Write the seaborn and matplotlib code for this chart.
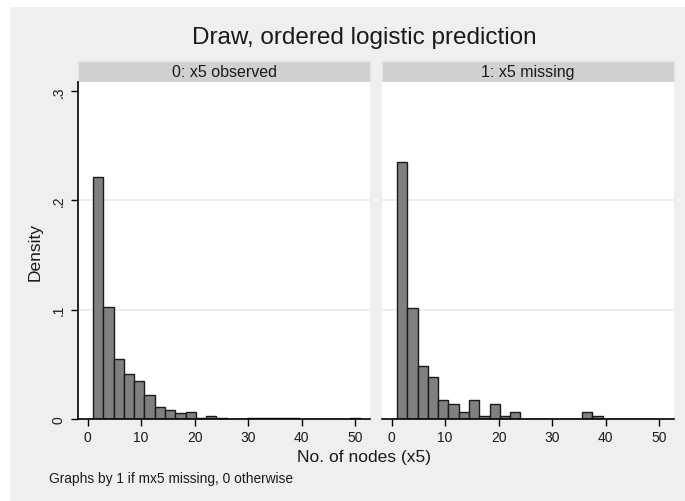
import numpy as np
import pandas as pd
import matplotlib
matplotlib.use("Agg")
import matplotlib.pyplot as plt
from matplotlib.patches import Rectangle
import seaborn as sns

# ---- data ----
bin_start = 1.0
bin_width = 50 / 26
n_bins = 26
panel_titles = ["0: x5 observed", "1: x5 missing"]
density_observed = [0.221, 0.102, 0.055, 0.041, 0.0345, 0.0223, 0.0107, 0.0085,
                    0.0055, 0.0067, 0.001, 0.0025, 0.001, 0.0, 0.0, 0.001,
                    0.001, 0.001, 0.001, 0.001, 0.0, 0.0, 0.0, 0.0, 0.0, 0.001]
density_missing = [0.235, 0.1016, 0.0488, 0.0384, 0.0177, 0.0137, 0.0067, 0.0177,
                   0.003, 0.0137, 0.003, 0.0067, 0.0, 0.0, 0.0, 0.0,
                   0.0, 0.0, 0.0067, 0.003, 0.0, 0.0, 0.0, 0.0, 0.0, 0.0]
x_ticks = [0, 10, 20, 30, 40, 50]
y_ticks = [0, 0.1, 0.2, 0.3]
y_ticklabels = ["0", ".1", ".2", ".3"]

edges = bin_start + bin_width * np.arange(n_bins + 1)
centers = (edges[:-1] + edges[1:]) / 2

sns.set_theme(style="white")
plt.rcParams["font.family"] = ["Liberation Sans", "DejaVu Sans"]

W, H = 685, 502
fig = plt.figure(figsize=(W / 100, H / 100), dpi=100)
fig.patch.set_facecolor("white")
# gray graph region
fig.patches.append(Rectangle((10 / W, 0), 1 - 10 / W, 1 - 8 / H, transform=fig.transFigure,
                             facecolor="#EFEFEF", edgecolor="none", zorder=-10))

top, bottom = 83, 420
panels_x = [(78, 370), (382, 674)]
series = [density_observed, density_missing]

for i, ((x0, x1), dens) in enumerate(zip(panels_x, series)):
    ax = fig.add_axes([x0 / W, (H - bottom) / H, (x1 - x0) / W, (bottom - top) / H])
    ax.set_zorder(2)
    ax.set_facecolor("white")
    df = pd.DataFrame({"x": centers, "w": dens})
    sns.histplot(data=df, x="x", weights="w", binwidth=bin_width,
                 binrange=(edges[0], edges[-1]), stat="count", ax=ax,
                 color="#808080", edgecolor="#1a1a1a", linewidth=1.0, alpha=1.0)
    ax.set_xlim(-1.8, 52.8)
    ax.set_ylim(0, 0.308)
    for g in [0.1, 0.2]:
        ax.axhline(g, color="#EAEAEA", lw=1.1, zorder=0)
    for s in ["top", "right"]:
        ax.spines[s].set_visible(False)
    ax.spines["bottom"].set_color("black")
    ax.spines["bottom"].set_linewidth(1.2)
    ax.set_xticks(x_ticks)
    ax.set_xticklabels([str(t) for t in x_ticks], fontsize=10)
    ax.tick_params(axis="x", bottom=True, length=5, width=1, color="black", pad=3,
                   labelcolor="#1a1a1a")
    ax.set_xlabel("")
    ax.set_ylabel("")
    if i == 0:
        ax.spines["left"].set_color("black")
        ax.spines["left"].set_linewidth(1.2)
        ax.set_yticks(y_ticks)
        ax.set_yticklabels(y_ticklabels, fontsize=10, rotation=90, va="center")
        ax.tick_params(axis="y", left=True, length=5, width=1, color="black", pad=4,
                       labelcolor="#1a1a1a")
    else:
        ax.spines["left"].set_visible(False)
        ax.set_yticks(y_ticks)
        ax.tick_params(axis="y", left=False, labelleft=False)
    # strip header
    fig.patches.append(Rectangle((x0 / W, (H - top) / H), (x1 - x0) / W, 21 / H,
                                 transform=fig.transFigure, facecolor="#D0D0D0",
                                 edgecolor="#DCE4E8", lw=1.0, zorder=1))
    fig.text((x0 + x1) / 2 / W, (H - 72.5) / H, panel_titles[i], ha="center", va="center",
             fontsize=11.5, color="#1a1a1a")

fig.text(364 / W, (H - 38) / H, "Draw, ordered logistic prediction", ha="center",
         va="center", fontsize=17.5, color="#1a1a1a")
fig.text(35 / W, (H - 252) / H, "Density", ha="center", va="center", rotation=90,
         fontsize=12.5, color="#1a1a1a")
fig.text(364 / W, (H - 458) / H, "No. of nodes (x5)", ha="center", va="center",
         fontsize=12.5, color="#1a1a1a")
fig.text(49 / W, (H - 479) / H, "Graphs by 1 if mx5 missing, 0 otherwise", ha="left",
         va="center", fontsize=9.9, color="#1a1a1a")

fig.savefig("out.png", dpi=100, facecolor=fig.get_facecolor())
